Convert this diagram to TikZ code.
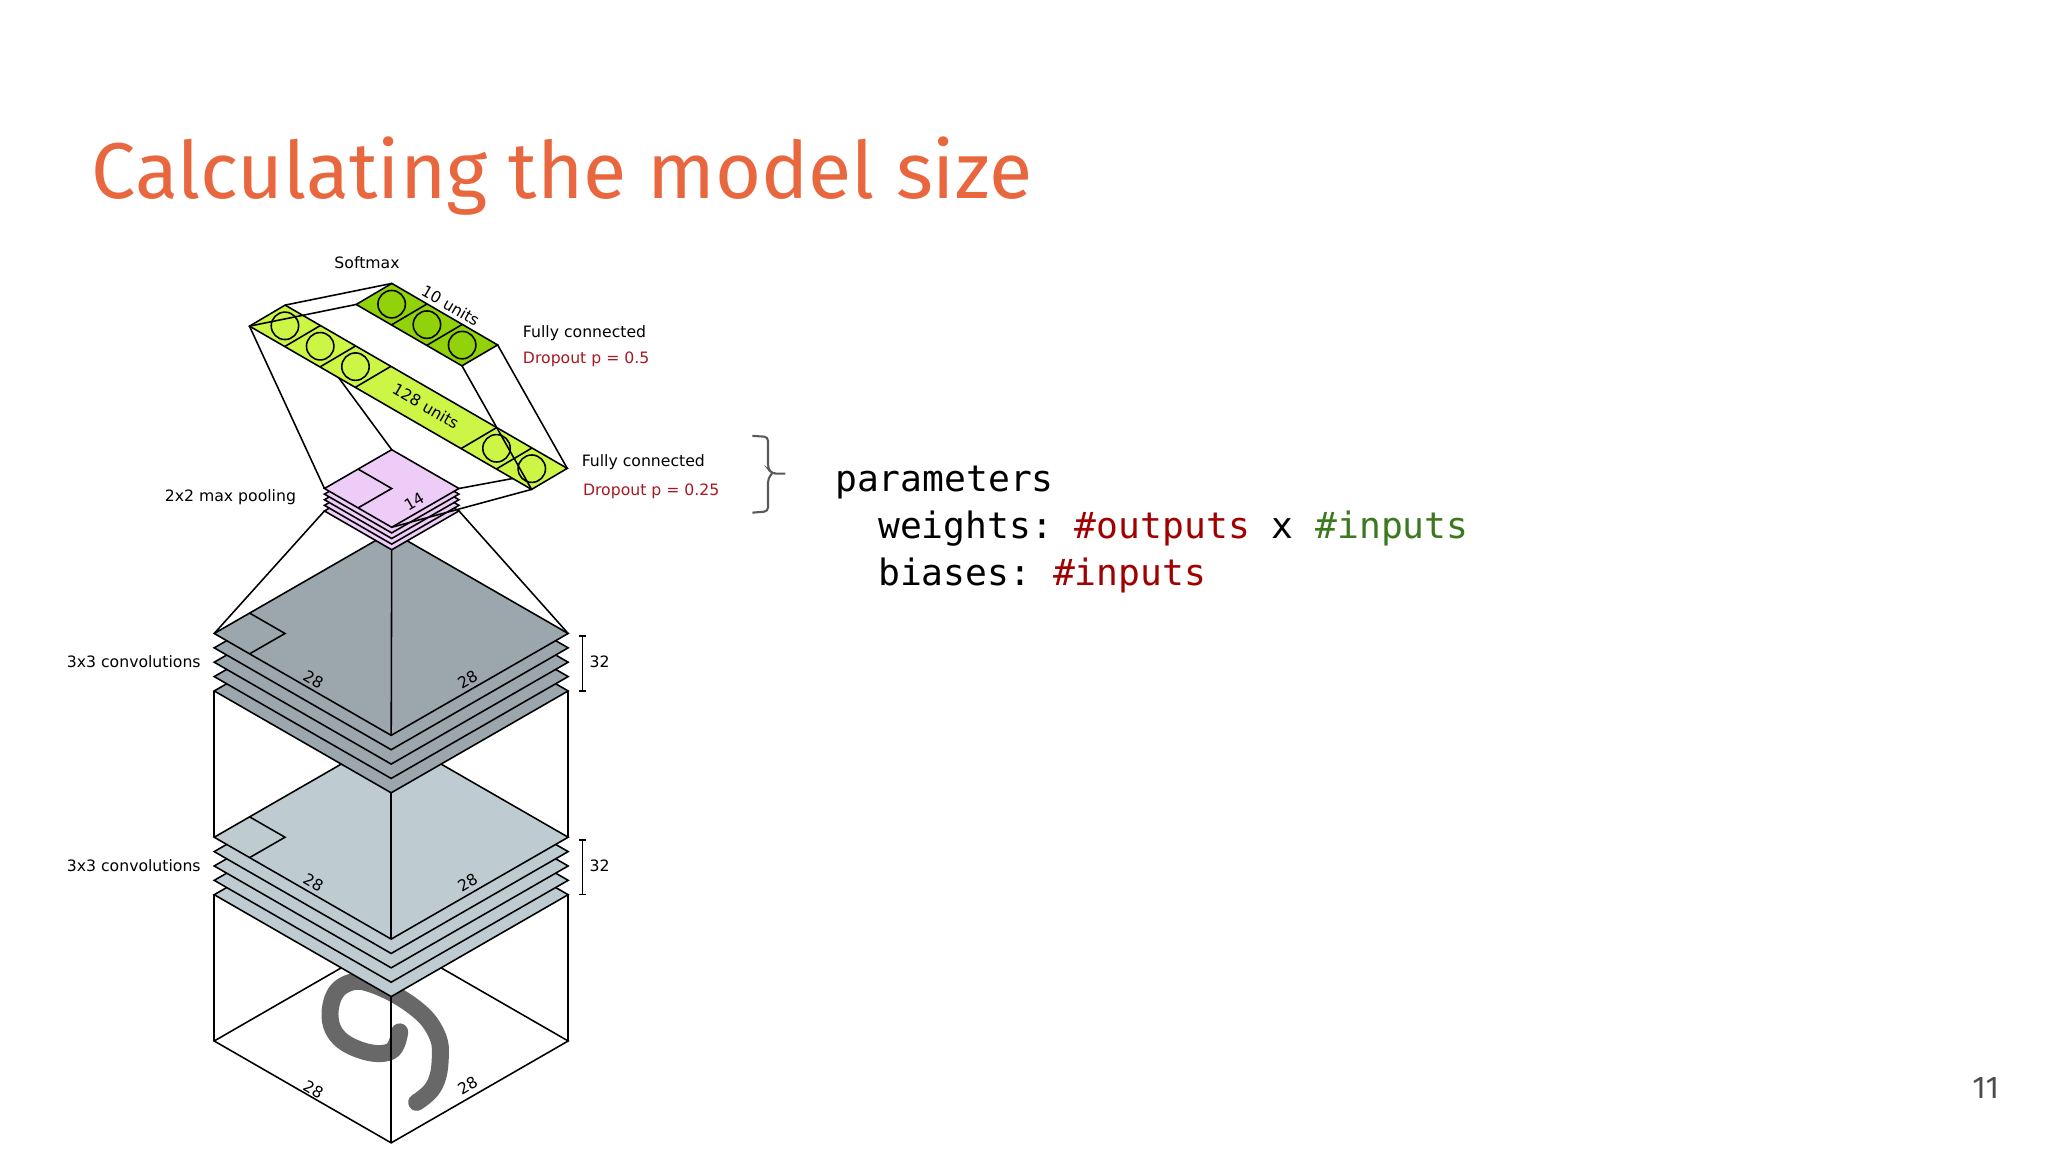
\documentclass[tikz,border=0pt]{standalone}
\usepackage{fontspec}
\setmainfont{DejaVu Sans}
\setmonofont{DejaVu Sans Mono}
\newfontfamily\titlefont{Fira Sans}
\usetikzlibrary{positioning}

\definecolor{titleorange}{RGB}{233,103,62}
\definecolor{convlight}{RGB}{190,204,210}
\definecolor{convdark}{RGB}{155,166,173}
\definecolor{poolpink}{RGB}{238,204,248}
\definecolor{denselight}{RGB}{205,245,70}
\definecolor{densedark}{RGB}{145,210,10}
\definecolor{dropred}{RGB}{165,25,35}
\definecolor{codered}{RGB}{160,0,0}
\definecolor{codegreen}{RGB}{60,120,30}
\definecolor{digitgray}{RGB}{104,104,104}

\tikzset{
	layer/.style={draw, line width=0.6pt, line join=miter},
	wire/.style={draw, line width=0.6pt},
	lbl/.style={font=\fontsize{6}{7}\selectfont, inner sep=0pt},
	codeline/.style={font=\ttfamily\fontsize{13.9}{18}\selectfont, inner sep=0pt, anchor=base west},
}

\begin{document}
\begin{tikzpicture}[x=0.5pt, y=-0.5pt]
\useasboundingbox[fill=white] (0,0) rectangle (1568,882);
\def \ux {135.5}
\def \uy {78}
\def \gap {11} % spacing of the conv layers

\node[anchor=base west, inner sep=0pt, text=titleorange] (title) at (70,152)
	{\resizebox{360pt}{!}{\titlefont Calculating the model size}};

% input image
\draw[layer] (164,797) -- ++(\ux,\uy) -- ++(\ux,-\uy) -- ++(-\ux,-\uy) -- cycle;
\draw[digitgray, line width=6.5pt, line cap=round] plot[smooth, tension=0.7] coordinates
	{(306,790) (299,805) (276,804) (256,790) (254,767) (266,753) (286,754) (317,771) (334,791) (337,812) (332,832) (319,844)};
\draw[wire] (164,797) -- (164,685);
\draw[wire] (435,797) -- (435,685);
\draw[wire] (299.5,875) -- (299.5,763);
\node[lbl, rotate=-30] (inw) at (240,834) {28};
\node[lbl, rotate=30] (inh) at (358,831) {28};

% two conv stacks
\foreach \base/\col/\nm in {685/convlight/lo, 529/convdark/hi}
{
	\pgfmathsetmacro \t {\base-4*\gap}
	\foreach \k in {0,...,4}
		\filldraw[layer, fill=\col] (164,\base-\gap*\k) -- ++(\ux,\uy) -- ++(\ux,-\uy) -- ++(-\ux,-\uy) -- cycle;
	\draw[layer] (191.1,\t-15.6) -- (218.2,\t) -- (191.1,\t+15.6);
	\coordinate (\nm L) at (164,\t);
	\coordinate (\nm R) at (435,\t);
	\coordinate (\nm F) at (299.5,\t+78);
	\node[lbl, rotate=-30] (\nm w) at (240,\t+35) {28};
	\node[lbl, rotate=30] (\nm h) at (358,\t+35) {28};
	\node[lbl, anchor=east] (\nm name) at (154,\t+21.5) {3x3 convolutions};
	\draw[line width=0.6pt] (443,\t+2) -- (449,\t+2) (446,\t+2) -- (446,\t+44) (443,\t+44) -- (449,\t+44);
	\node[lbl, anchor=west] (\nm depth) at (451,\t+22) {32};
}
\draw[wire] (loL) -- (164,529);
\draw[wire] (loR) -- (435,529);
\draw[wire] (loF) -- (299.5,607);

% max pooling
\def \px {51.5}
\def \py {29.7}
\coordinate (poolbL) at (248.4,391.2);
\coordinate (poolbR) at (351.4,391.2);
\coordinate (poolbF) at (299.9,420.9);
\draw[wire] (hiL) -- (poolbL);
\draw[wire] (hiR) -- (poolbR);
\draw[wire] (hiF) -- (poolbF);
\foreach \k in {0,...,4}
	\filldraw[layer, fill=poolpink] (248.4,391.2-4.3*\k) -- ++(\px,\py) -- ++(\px,-\py) -- ++(-\px,-\py) -- cycle;
\coordinate (poolL) at (248.4,374);
\coordinate (poolB) at (299.9,344.3);
\coordinate (poolR) at (351.4,374);
\coordinate (poolF) at (299.9,403.7);
\draw[layer] (274.15,359.15) -- (299.9,374) -- (274.15,388.85);
\node[lbl, rotate=30] (poolh) at (317,384) {14};
\node[lbl, anchor=east] (poolname) at (227,381) {2x2 max pooling};

% 128 units
\coordinate (fcA) at (191,249.7);
\coordinate (fcB) at (218.3,233.6);
\coordinate (fcC) at (434.3,358.6);
\coordinate (fcD) at (407,374.7);
\draw[wire] (poolL) -- (fcA);
\draw[wire] (poolB) -- (fcB);
\draw[wire] (poolR) -- (fcC);
\draw[wire] (poolF) -- (fcD);
\filldraw[layer, fill=denselight] (fcA) -- (fcB) -- (fcC) -- (fcD) -- cycle;
\foreach \k in {1,2,3,6,7}
	\draw[layer] ({191+27*\k},{249.7+15.625*\k}) -- ++(27.3,-16.1);
\foreach \k in {0,1,2,6,7}
	\draw[layer] ({191+27*(\k+0.5)+13.65},{249.7+15.625*(\k+0.5)-8.05}) circle[radius=10.5];
\node[lbl, rotate=-30] (fcunits) at (326,311) {128 units};

% 10 units
\coordinate (smE) at (272.7,233.1);
\coordinate (smF) at (300,217);
\coordinate (smG) at (381,264.1);
\coordinate (smH) at (353.7,280.1);
\filldraw[layer, fill=densedark] (smE) -- (smF) -- (smG) -- (smH) -- cycle;
\foreach \k in {1,2}
	\draw[layer] ({272.7+27*\k},{233.1+15.67*\k}) -- ++(27.3,-16.1);
\foreach \k in {0,1,2}
	\draw[layer] ({272.7+27*(\k+0.5)+13.65},{233.1+15.67*(\k+0.5)-8.05}) circle[radius=10.5];
\node[lbl, rotate=-30] (smunits) at (345,234) {10 units};
\draw[wire] (fcA) -- (smE);
\draw[wire] (fcB) -- (smF);
\draw[wire] (fcC) -- (smG);
\draw[wire] (fcD) -- (smH);

\node[lbl] (softmax) at (281,201) {Softmax};
\node[lbl, anchor=west] (fc1) at (400,255) {Fully connected};
\node[lbl, anchor=west, text=dropred] (drop1) at (400,275) {Dropout p = 0.5};
\node[lbl, anchor=west] (fc2) at (445,354) {Fully connected};
\node[lbl, anchor=west, text=dropred] (drop2) at (446,376) {Dropout p = 0.25};

% parameters
\draw[black!65, line width=0.8pt, rounded corners=1.5pt]
	(576,333.7) -- (588,334.5) -- (588,358.7) -- (591,362.6) -- (601.3,362.6)
	(591,362.6) -- (588,366.4) -- (588,391.5) -- (576,392.5);
\node[codeline] (params) at (639,376) {parameters};
\node[codeline] (weights) at (672,412) {weights: {\color{codered}\#outputs} x {\color{codegreen}\#inputs}};
\node[codeline] (biases) at (672,448) {biases: {\color{codered}\#inputs}};

\node[anchor=base east, inner sep=0pt, text=black!70, font=\titlefont\fontsize{12}{14}\selectfont] (pagenum) at (1531,841) {11};
\end{tikzpicture}
\end{document}
